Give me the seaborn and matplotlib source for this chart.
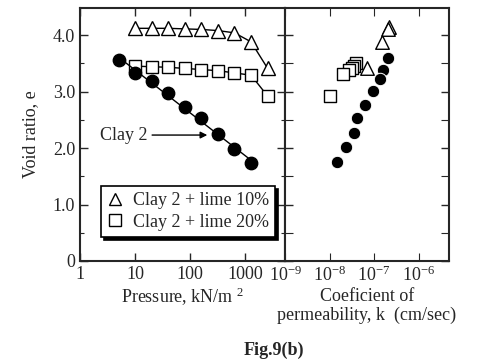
import numpy as np
import pandas as pd
import matplotlib
matplotlib.use("Agg")
import matplotlib.pyplot as plt
import seaborn as sns
from matplotlib.lines import Line2D
from matplotlib.ticker import LogLocator, FixedLocator, NullFormatter, MultipleLocator

# ---------------- data ----------------
pressure = [5, 10, 20, 40, 80, 160, 320, 640, 1280]
e_clay2 = [3.56, 3.33, 3.19, 2.97, 2.73, 2.53, 2.25, 1.98, 1.73]
p_lime = [10, 20, 40, 80, 160, 320, 640, 1280, 2560]
e_lime10 = [4.12, 4.12, 4.12, 4.11, 4.10, 4.08, 4.04, 3.88, 3.41]
e_lime20 = [3.45, 3.44, 3.43, 3.41, 3.39, 3.37, 3.33, 3.29, 2.92]

k_clay2 = [2.0e-7, 1.62e-7, 1.38e-7, 9.5e-8, 6.3e-8, 4.1e-8, 3.5e-8, 2.3e-8, 1.45e-8]
ek_clay2 = [3.59, 3.38, 3.22, 3.01, 2.76, 2.53, 2.27, 2.02, 1.75]
k_lime10 = [2.2e-7, 2.0e-7, 1.5e-7, 6.9e-8]
ek_lime10 = [4.14, 4.11, 3.88, 3.42]
k_lime20 = [3.9e-8, 3.5e-8, 3.2e-8, 2.7e-8, 2.0e-8, 1.0e-8]
ek_lime20 = [3.50, 3.46, 3.42, 3.38, 3.31, 2.92]

labels = ["Clay 2 + lime 10%", "Clay 2 + lime 20%"]
xtick_p = [1, 10, 100, 1000]
xtick_k = [1e-9, 1e-8, 1e-7, 1e-6]

# ---------------- style ----------------
sns.set_style("ticks")
plt.rcParams["font.family"] = ["Liberation Serif", "DejaVu Serif"]
plt.rcParams["mathtext.fontset"] = "custom"
plt.rcParams["mathtext.rm"] = "Liberation Serif"
plt.rcParams["mathtext.it"] = "Liberation Serif:italic"

fig = plt.figure(figsize=(4.85, 3.63), dpi=100)
axL = fig.add_axes([0.165, 0.281, 0.4227, 0.697])
axR = fig.add_axes([0.5877, 0.281, 0.338, 0.697], sharey=axL)

ms = 8
open_kw = dict(markerfacecolor="white", markeredgecolor="black", markeredgewidth=1.0)

# ---- left panel ----
df_c = pd.DataFrame({"p": pressure, "e": e_clay2})
df_l = pd.DataFrame({"p": p_lime, "e10": e_lime10, "e20": e_lime20})
axL.set_xscale("log")
sns.lineplot(data=df_l, x="p", y="e10", ax=axL, color="black", lw=1.0,
             marker="^", markersize=ms + 1.5, **open_kw)
sns.lineplot(data=df_l, x="p", y="e20", ax=axL, color="black", lw=1.0,
             marker="s", markersize=ms, **open_kw)
sns.regplot(data=df_c, x="p", y="e", ax=axL, logx=True, ci=None, truncate=True,
            color="black", scatter_kws=dict(s=80, color="black", alpha=1, zorder=3),
            line_kws=dict(lw=1.0, color="black"))
axL.set_xlim(1, 5300)
axL.set_ylim(0, 4.48)
axL.xaxis.set_major_locator(FixedLocator(xtick_p))
axL.xaxis.set_minor_locator(LogLocator(base=10, subs=np.arange(2, 10)))
axL.xaxis.set_minor_formatter(NullFormatter())
axL.set_xticklabels([str(v) for v in xtick_p])
axL.set_yticks([0, 1, 2, 3, 4])
axL.yaxis.set_minor_locator(MultipleLocator(0.5))
axL.set_yticklabels(["0", "1.0", "2.0", "3.0", "4.0"])
axL.tick_params(which="both", direction="in", top=True, right=True, labelsize=13)
axL.tick_params(which="major", length=6, width=1)
axL.tick_params(which="minor", length=3, width=0.8)
axL.set_xlabel("Pressure, kN/m $^{2}$", fontsize=13, labelpad=2)
axL.set_ylabel("Void ratio, e", fontsize=13, labelpad=10)
axL.annotate("Clay 2", xy=(205, 2.23), xytext=(2.3, 2.23), ha="left", va="center",
             fontsize=13, arrowprops=dict(arrowstyle="-|>", color="black", lw=1.0,
                                          mutation_scale=10, shrinkA=1, shrinkB=0))
for s in axL.spines.values():
    s.set_linewidth(1.5)

# ---- right panel ----
axR.set_xscale("log")
sns.scatterplot(x=k_clay2, y=ek_clay2, ax=axR, color="black", s=80, zorder=3)
sns.scatterplot(x=k_lime20, y=ek_lime20, ax=axR, marker="s", s=75,
                facecolor="white", edgecolor="black", linewidth=1.0)
sns.scatterplot(x=k_lime10, y=ek_lime10, ax=axR, marker="^", s=95,
                facecolor="white", edgecolor="black", linewidth=1.0)
axR.set_xlim(1e-9, 10 ** -5.32)
axR.xaxis.set_major_locator(FixedLocator(xtick_k))
axR.xaxis.set_minor_locator(FixedLocator([]))
axR.set_xticklabels([r"$10^{-9}$", r"$10^{-8}$", r"$10^{-7}$", r"$10^{-6}$"])
axR.tick_params(axis="y", which="both", left=True, labelleft=False,
                direction="in", right=True)
axR.tick_params(axis="y", which="major", length=6, width=1)
axR.tick_params(axis="y", which="minor", length=6, width=0.8)
axR.tick_params(axis="x", which="both", direction="in", top=True, length=6, labelsize=13)
axR.set_xlabel("Coeficient of\npermeability, k  (cm/sec)", fontsize=13,
               labelpad=2, linespacing=1.15)
for s in axR.spines.values():
    s.set_linewidth(1.5)

# ---- legend ----
handles = [Line2D([], [], ls="none", marker="^", markersize=8, **open_kw),
           Line2D([], [], ls="none", marker="s", markersize=8, **open_kw)]
leg = fig.legend(handles, labels, loc="lower left", bbox_to_anchor=(0.19, 0.322),
                 fontsize=13, frameon=True, fancybox=False, framealpha=1,
                 edgecolor="black", handlelength=0.8, handletextpad=0.6,
                 borderpad=0.35, labelspacing=0.25,
                 shadow={"color": "black", "alpha": 1, "ox": 2, "oy": -2})
leg.get_frame().set_linewidth(1.2)

fig.text(0.565, 0.035, "Fig.9(b)", ha="center", va="center", fontsize=13,
         fontweight="bold")

fig.savefig("out.png", dpi=100)
